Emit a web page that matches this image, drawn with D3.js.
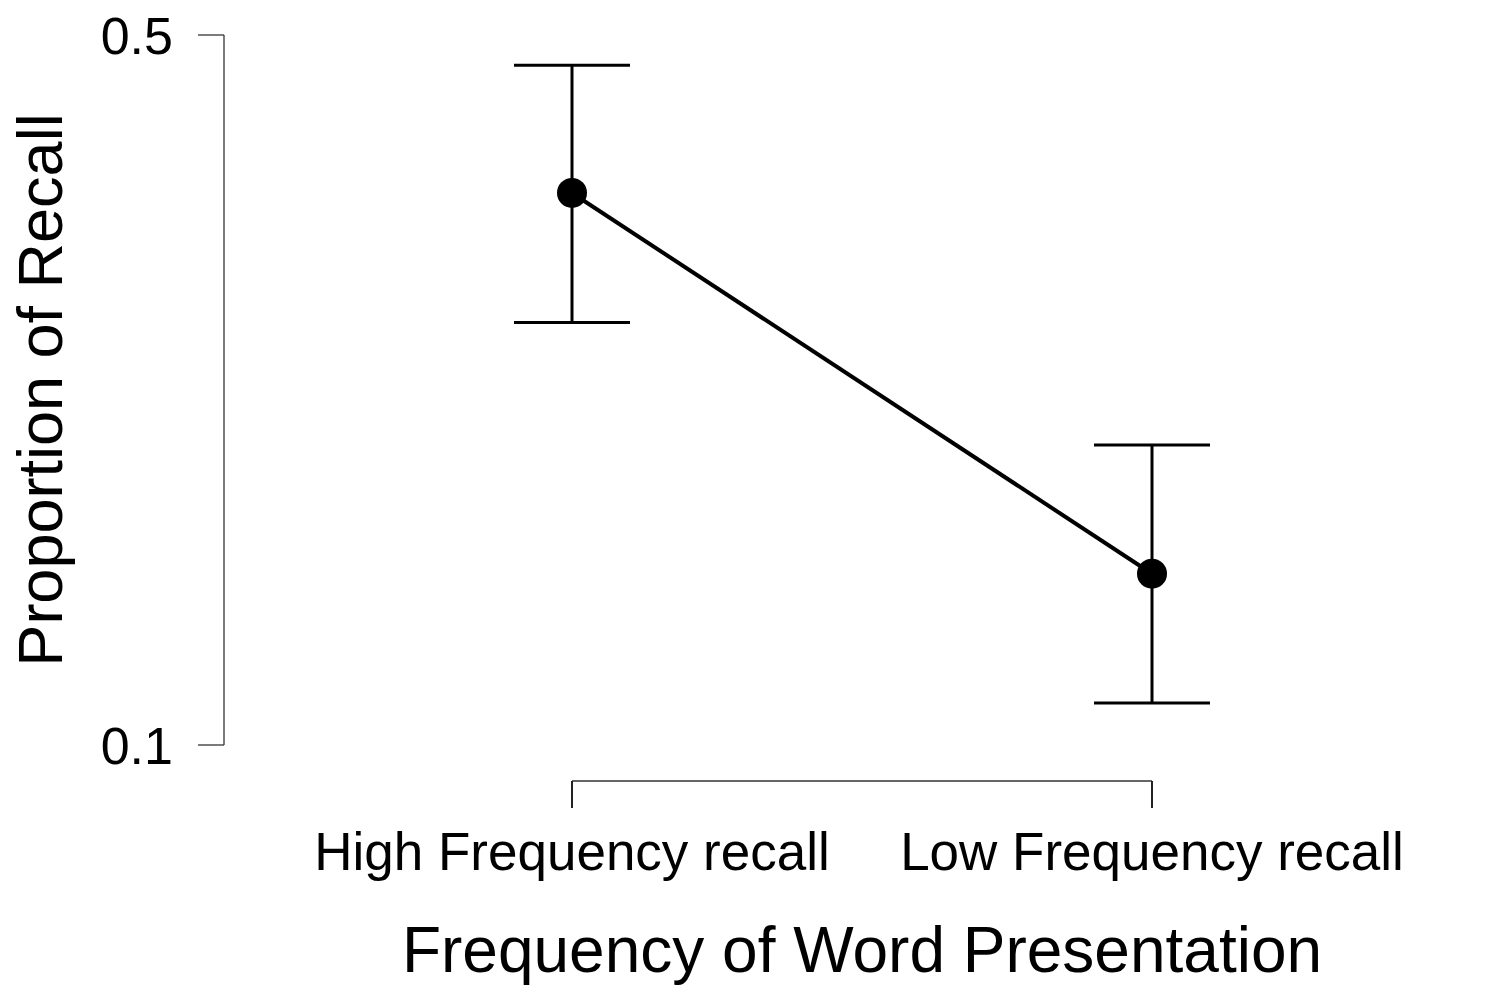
<!DOCTYPE html>
<html>
<head>
<meta charset="utf-8">
<script src="https://cdn.jsdelivr.net/npm/d3@7"></script>
<style>
  body { margin: 0; background: #fff; }
  text { font-family: "Liberation Sans", Arial, sans-serif; fill: #000; }
</style>
</head>
<body>
<div id="chart"><svg></svg></div>
<script>
var categories = ["High Frequency recall", "Low Frequency recall"];
var means = [0.411, 0.1965];
var upper = [0.483, 0.269];
var lower = [0.338, 0.1237];
var yTicks = [0.1, 0.5];

var width = 1500,
    height = 1000;

var svg = d3.select("#chart").select("svg")
    .attr("width", width)
    .attr("height", height);

var data = categories.map(function(c, i) {
    return { cat: c, mean: means[i], hi: upper[i], lo: lower[i] };
});

var x = d3.scalePoint().domain(categories).range([572, 1152]);
var y = d3.scaleLinear().domain([0.1, 0.5]).range([745, 35]);

// y axis (JASP style: line only over the tick range)
var yAxis = svg.append("g").attr("transform", "translate(224,0)");
yAxis.append("line")
    .attr("y1", y(0.1)).attr("y2", y(0.5))
    .attr("stroke", "#333").attr("stroke-width", 1.3);
yAxis.selectAll(".tick").data(yTicks).enter()
    .append("line")
        .attr("x1", -26).attr("x2", 0)
        .attr("y1", d => y(d)).attr("y2", d => y(d))
        .attr("stroke", "#333").attr("stroke-width", 1.3);
yAxis.selectAll(".lab").data(yTicks).enter()
    .append("text")
        .attr("x", -51)
        .attr("y", d => y(d))
        .attr("dy", "0.36em")
        .attr("text-anchor", "end")
        .style("font-size", "52px")
        .text(d => d3.format(".1f")(d));

// x axis
var xAxis = svg.append("g").attr("transform", "translate(0,781)");
xAxis.append("line")
    .attr("x1", x(categories[0])).attr("x2", x(categories[1]))
    .attr("stroke", "#333").attr("stroke-width", 1.3);
xAxis.selectAll(".tick").data(categories).enter()
    .append("line")
        .attr("x1", d => x(d)).attr("x2", d => x(d))
        .attr("y1", 0).attr("y2", 27)
        .attr("stroke", "#222").attr("stroke-width", 2);
xAxis.selectAll(".lab").data(categories).enter()
    .append("text")
        .attr("x", d => x(d))
        .attr("y", 89)
        .attr("text-anchor", "middle")
        .style("font-size", "53px")
        .text(d => d);

// axis titles
svg.append("text")
    .attr("x", 862).attr("y", 972)
    .attr("text-anchor", "middle")
    .style("font-size", "64px")
    .text("Frequency of Word Presentation");

svg.append("text")
    .attr("transform", "translate(62," + ((y(0.1) + y(0.5)) / 2) + ") rotate(-90)")
    .attr("text-anchor", "middle")
    .style("font-size", "63px")
    .text("Proportion of Recall");

// error bars
var capHalf = 58;
var bars = svg.append("g").attr("stroke", "#000").attr("stroke-width", 3);
bars.selectAll(".stem").data(data).enter()
    .append("line")
        .attr("x1", d => x(d.cat)).attr("x2", d => x(d.cat))
        .attr("y1", d => y(d.hi)).attr("y2", d => y(d.lo));
bars.selectAll(".capHi").data(data).enter()
    .append("line")
        .attr("x1", d => x(d.cat) - capHalf).attr("x2", d => x(d.cat) + capHalf)
        .attr("y1", d => y(d.hi)).attr("y2", d => y(d.hi));
bars.selectAll(".capLo").data(data).enter()
    .append("line")
        .attr("x1", d => x(d.cat) - capHalf).attr("x2", d => x(d.cat) + capHalf)
        .attr("y1", d => y(d.lo)).attr("y2", d => y(d.lo));

// connecting line
svg.append("path")
    .datum(data)
    .attr("fill", "none")
    .attr("stroke", "#000")
    .attr("stroke-width", 4)
    .attr("d", d3.line().x(d => x(d.cat)).y(d => y(d.mean)));

// points
svg.selectAll(".pt").data(data).enter()
    .append("circle")
        .attr("cx", d => x(d.cat))
        .attr("cy", d => y(d.mean))
        .attr("r", 15)
        .attr("fill", "#000");
</script>
</body>
</html>
